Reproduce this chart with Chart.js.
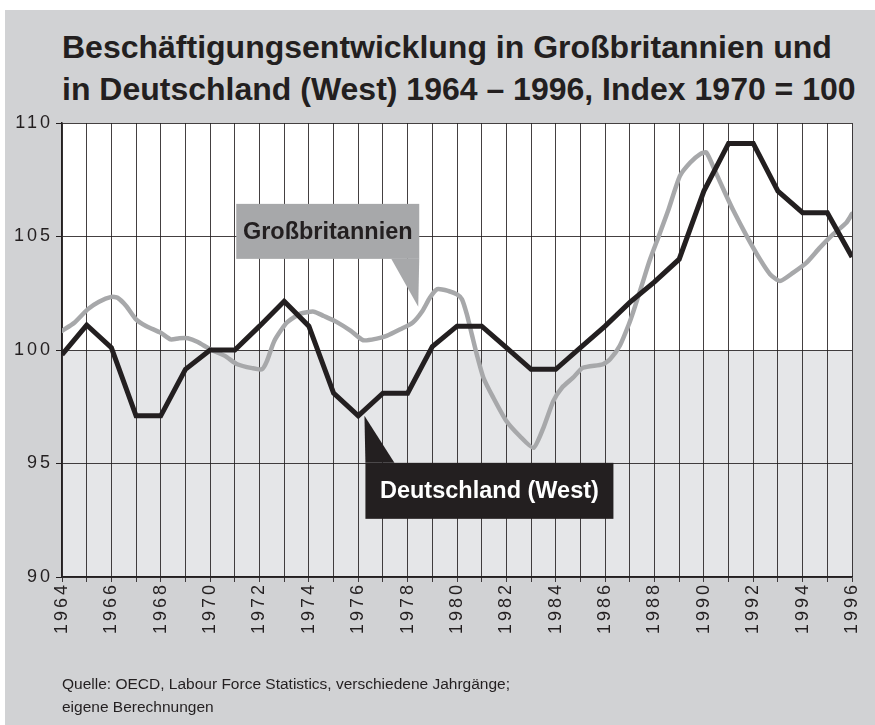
<!DOCTYPE html>
<html>
<head>
<meta charset="utf-8">
<script src="https://cdn.jsdelivr.net/npm/chart.js@4.4.1/dist/chart.umd.min.js"></script>
<style>
    html, body { margin: 0; padding: 0; background: #fff; }
    body { width: 875px; height: 725px; position: relative; overflow: hidden;
           font-family: "Liberation Sans", Arial, Helvetica, sans-serif; color: #231f20; }
    #panel { position: absolute; left: 5px; top: 10px; right: 0; bottom: 0; background: #d1d2d4; }
    #title { position: absolute; left: 62px; top: 26px; font-size: 32px; font-weight: bold;
             line-height: 42px; white-space: nowrap; }
    #source { position: absolute; left: 62px; top: 672px; font-size: 15.5px; line-height: 23px; }
    #chart { position: absolute; left: 0; top: 0; }
</style>
</head>
<body>
<div id="panel"></div>
<div id="title">Beschäftigungsentwicklung in Großbritannien und<br>in Deutschland (West) 1964 – 1996, Index 1970 = 100</div>
<canvas id="chart" width="875" height="725"></canvas>
<div id="source">Quelle: OECD, Labour Force Statistics, verschiedene Jahrgänge;<br>eigene Berechnungen</div>
<script>
// Deutschland (West), Jahreswerte
var deYears = [1964, 1965, 1966, 1967, 1968, 1969, 1970, 1971, 1972, 1973, 1974,
               1975, 1976, 1977, 1978, 1979, 1980, 1981, 1982, 1983, 1984, 1985,
               1986, 1987, 1988, 1989, 1990, 1991, 1992, 1993, 1994, 1995, 1996];
var deValues = [99.8, 101.1, 100.1, 97.1, 97.1, 99.15, 100, 100, 101.05, 102.15, 101.05,
                98.1, 97.1, 98.1, 98.1, 100.15, 101.05, 101.05, 100.1, 99.15, 99.15, 100.1,
                101.05, 102.1, 103, 104, 107, 109.1, 109.1, 107, 106.05, 106.05, 104.1];

// Großbritannien, unterjährige Werte (Zeitpunkt als Dezimaljahr)
var gbTimes = [1964.0, 1964.5, 1965.05, 1965.5, 1966.0, 1966.25, 1966.6, 1967.0, 1967.4, 1968.0,
               1968.4, 1968.75, 1969.1, 1969.5, 1970.0, 1970.6, 1971.1, 1971.7, 1972.1, 1972.3,
               1972.6, 1973.1, 1973.65, 1974.2, 1974.6, 1975.1, 1975.7, 1976.2, 1976.75, 1977.15,
               1977.7, 1978.2, 1978.6, 1978.9, 1979.2, 1979.65, 1980.0, 1980.2, 1980.4, 1980.6,
               1980.8, 1981.07, 1981.47, 1982.0, 1982.55, 1983.1, 1983.5, 1983.9, 1984.25, 1984.7,
               1985.1, 1985.9, 1986.2, 1986.6, 1986.95, 1987.15, 1987.5, 1987.8, 1988.15, 1988.55,
               1989.03, 1989.45, 1989.85, 1990.1, 1990.45, 1990.85, 1991.2, 1991.73, 1992.27, 1992.68,
               1993.08, 1993.62, 1994.16, 1994.7, 1995.24, 1995.78, 1996.0];
var gbValues = [100.84, 101.2, 101.8, 102.13, 102.34, 102.3, 101.94, 101.35, 101.06, 100.76,
                100.47, 100.52, 100.52, 100.35, 100.03, 99.74, 99.37, 99.2, 99.15, 99.51,
                100.4, 101.2, 101.6, 101.69, 101.5, 101.25, 100.84, 100.43, 100.5, 100.62,
                100.91, 101.2, 101.72, 102.3, 102.68, 102.6, 102.45, 102.24, 101.57, 100.69,
                99.81, 98.78, 97.9, 96.87, 96.2, 95.69, 96.57, 97.75, 98.34, 98.78,
                99.22, 99.37, 99.59, 100.2, 101.1, 101.72, 102.9, 103.93, 104.95, 106.13,
                107.67, 108.26, 108.63, 108.7, 107.9, 106.94, 106.13, 105.03, 104.0, 103.34,
                103.04, 103.41, 103.85, 104.51, 105.1, 105.62, 106.0];

var yTicks = [90, 95, 100, 105, 110];

var FONT = '"Liberation Sans", Arial, Helvetica, sans-serif';
var INK = '#231f20';
var GREY_LINE = '#a7a8aa';
var GRID = 'rgba(35,31,32,0.85)';

function toPoints(xs, ys) {
    var pts = [];
    for (var i = 0; i < xs.length; i++) pts.push({ x: xs[i], y: ys[i] });
    return pts;
}

// Hintergrund: oberhalb 100 weiss, unterhalb hellgrau; gesperrte Achsenschrift
var areaFill = {
    id: 'areaFill',
    beforeDraw: function(chart) {
        var a = chart.chartArea, ctx = chart.ctx;
        var y100 = chart.scales.y.getPixelForValue(100);
        ctx.save();
        ctx.fillStyle = '#ffffff';
        ctx.fillRect(a.left, a.top, a.right - a.left, y100 - a.top);
        ctx.fillStyle = '#e5e6e8';
        ctx.fillRect(a.left, y100, a.right - a.left, a.bottom - y100);
        ctx.restore();
        ctx.letterSpacing = '3px';
    }
};

// Beschriftungen mit Zeiger
var callouts = [
    { text: 'Großbritannien', at: [1978.43, 101.9], bg: GREY_LINE, fg: INK,
      box: [-182, 1, -103, -48], tri: [[-27, -48], [1, -48]] },
    { text: 'Deutschland (West)', at: [1976.25, 97.1], bg: INK, fg: '#ffffff',
      box: [1, 249, 47, 103], tri: [[1, 47], [30, 47]] }
];

var calloutPlugin = {
    id: 'callouts',
    afterDatasetsDraw: function(chart) {
        var ctx = chart.ctx;
        callouts.forEach(function(c) {
            var tx = chart.scales.x.getPixelForValue(c.at[0]);
            var ty = chart.scales.y.getPixelForValue(c.at[1]);
            ctx.save();
            ctx.letterSpacing = '0px';
            ctx.fillStyle = c.bg;
            ctx.fillRect(tx + c.box[0], ty + c.box[2], c.box[1] - c.box[0], c.box[3] - c.box[2]);
            ctx.beginPath();
            ctx.moveTo(tx + c.tri[0][0], ty + c.tri[0][1]);
            ctx.lineTo(tx + c.tri[1][0], ty + c.tri[1][1]);
            ctx.lineTo(tx, ty);
            ctx.closePath();
            ctx.fill();
            ctx.fillStyle = c.fg;
            ctx.font = 'bold 23.5px ' + FONT;
            ctx.textAlign = 'center';
            ctx.textBaseline = 'middle';
            ctx.fillText(c.text, tx + (c.box[0] + c.box[1]) / 2, ty + (c.box[2] + c.box[3]) / 2 + 1);
            ctx.restore();
        });
    }
};

var ctx = document.getElementById('chart');
var chart = new Chart(ctx, {
    type: 'line',
    data: {
        datasets: [{
            label: 'Deutschland (West)',
            data: toPoints(deYears, deValues),
            borderColor: INK,
            borderWidth: 5,
            borderJoinStyle: 'miter',
            pointRadius: 0,
            tension: 0
        }, {
            label: 'Großbritannien',
            data: toPoints(gbTimes, gbValues),
            borderColor: GREY_LINE,
            borderWidth: 4.5,
            borderJoinStyle: 'round',
            borderCapStyle: 'round',
            pointRadius: 0,
            tension: 0.2
        }]
    },
    options: {
        responsive: false,
        animation: false,
        layout: { padding: { left: 0, top: 123, right: 23, bottom: 68 } },
        plugins: {
            legend: { display: false },
            tooltip: { enabled: false }
        },
        scales: {
            x: {
                type: 'linear',
                min: 1964,
                max: 1996,
                afterFit: function(scale) { scale.height = 80; },
                ticks: {
                    stepSize: 1,
                    maxTicksLimit: 40,
                    autoSkip: false,
                    minRotation: 90,
                    maxRotation: 90,
                    padding: 0,
                    color: INK,
                    font: { family: FONT, size: 18 },
                    callback: function(v) { return v % 2 === 0 ? String(v) : ''; }
                },
                grid: { color: GRID, lineWidth: 1, tickLength: 5, tickColor: GRID },
                border: { color: INK, width: 1.5 }
            },
            y: {
                min: 90,
                max: 110,
                afterFit: function(scale) { scale.width = 62; },
                afterBuildTicks: function(scale) {
                    scale.ticks = yTicks.map(function(v) { return { value: v }; });
                },
                ticks: {
                    padding: 3,
                    color: INK,
                    font: { family: FONT, size: 18 }
                },
                grid: { color: GRID, lineWidth: 1, tickLength: 6, tickColor: INK },
                border: { color: INK, width: 1.5 }
            }
        }
    },
    plugins: [areaFill, calloutPlugin]
});
</script>
</body>
</html>
